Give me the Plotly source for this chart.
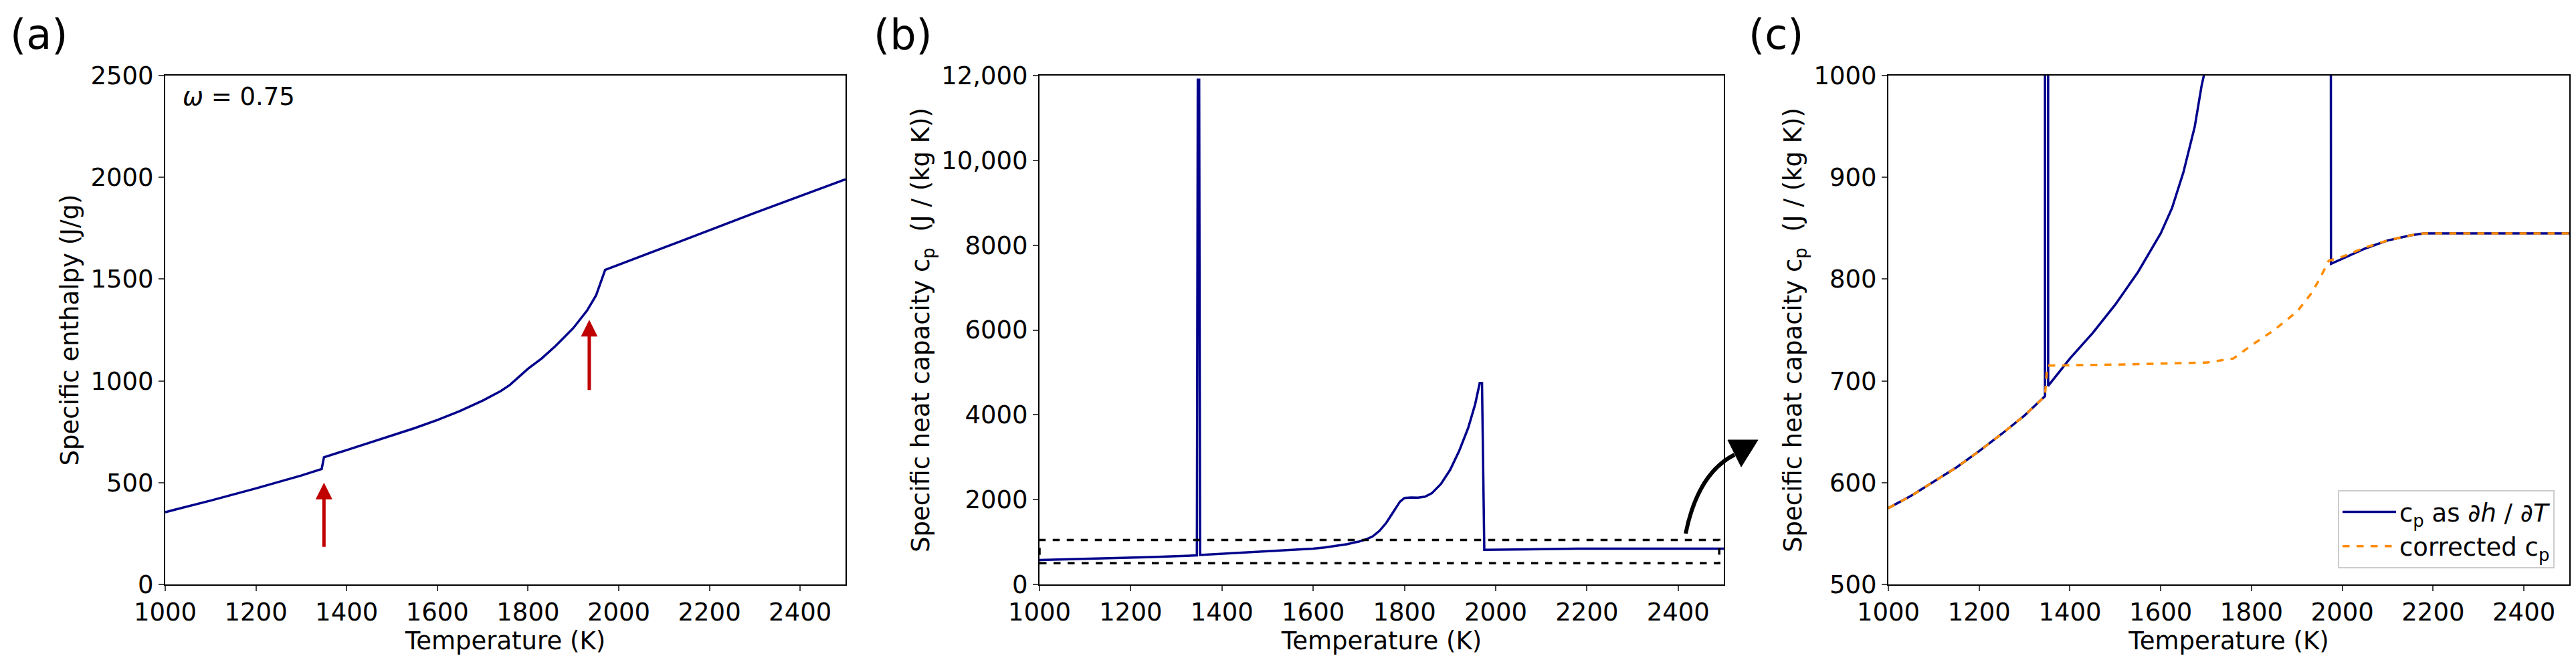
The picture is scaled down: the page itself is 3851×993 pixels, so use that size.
import plotly.graph_objects as go

# ---- data ----
T_h = [1000, 1100, 1200, 1300, 1345, 1350, 1400, 1450, 1500, 1550, 1600, 1650, 1700, 1740, 1760, 1780, 1800, 1830, 1860, 1900, 1930, 1950, 1970, 2100, 2300, 2500]
h = [355, 412, 472, 535, 567, 625, 660, 695, 730, 768, 808, 852, 903, 950, 980, 1020, 1060, 1110, 1170, 1260, 1345, 1420, 1545, 1655, 1825, 1990]

T_cp = [1000, 1050, 1100, 1150, 1200, 1250, 1300, 1345, 1347, 1350, 1352, 1400, 1450, 1500, 1550, 1600, 1625, 1650, 1675, 1690, 1700, 1715, 1730, 1745, 1760, 1775, 1790, 1800, 1815, 1830, 1845, 1860, 1880, 1900, 1920, 1940, 1955, 1965, 1970, 1975, 2000, 2050, 2100, 2150, 2180, 2500]
cp = [575, 587, 601, 615, 631, 648, 666, 685, 11900, 11900, 695, 722, 747, 775, 807, 845, 870, 905, 950, 990, 1010, 1060, 1130, 1260, 1450, 1700, 1950, 2040, 2050, 2045, 2070, 2150, 2370, 2700, 3150, 3700, 4250, 4750, 4750, 815, 820, 830, 838, 843, 845, 845]

T_corr = [1000, 1050, 1100, 1150, 1200, 1250, 1300, 1345, 1350, 1500, 1700, 1760, 1800, 1850, 1900, 1930, 1950, 1970, 2000, 2050, 2100, 2150, 2180, 2500]
cp_corr = [575, 587, 601, 615, 631, 648, 666, 685, 715, 716, 718, 722, 735, 750, 768, 785, 800, 818, 822, 831, 838, 843, 845, 845]

xticks = [1000, 1200, 1400, 1600, 1800, 2000, 2200, 2400]
yticks_b = [0, 2000, 4000, 6000, 8000, 10000, 12000]
yticks_b_text = ["0", "2000", "4000", "6000", "8000", "10,000", "12,000"]

W, H = 3851, 993
NAVY = "#00008b"
ORANGE = "#ff8c00"
RED = "#c00000"
FONT = "DejaVu Sans"
TS = 37

fig = go.Figure()
fig.add_trace(go.Scatter(x=T_h, y=h, mode="lines", line=dict(color=NAVY, width=3.5), xaxis="x", yaxis="y", showlegend=False))
fig.add_trace(go.Scatter(x=T_cp, y=cp, mode="lines", line=dict(color=NAVY, width=3.5), xaxis="x2", yaxis="y2", showlegend=False))
fig.add_trace(go.Scatter(x=T_cp, y=cp, mode="lines", line=dict(color=NAVY, width=3.5), xaxis="x3", yaxis="y3",
                         name="c<sub>p</sub> as ∂<i>h</i> / ∂<i>T</i>"))
fig.add_trace(go.Scatter(x=T_corr, y=cp_corr, mode="lines", line=dict(color=ORANGE, width=3.5, dash="dash"), xaxis="x3", yaxis="y3",
                         name="corrected c<sub>p</sub>"))

ydom = [1 - 866 / H, 1 - 105 / H]
doms = [(239 / W, 1256 / W), (1546 / W, 2569 / W), (2815 / W, 3833 / W)]
ax_common = dict(showline=True, linecolor="black", linewidth=2, mirror=True, ticks="outside", ticklen=8, tickwidth=2,
                 showgrid=False, zeroline=False, tickfont=dict(size=TS, color="black"), automargin=False)

layout = dict(width=W, height=H, margin=dict(l=0, r=0, t=0, b=0), plot_bgcolor="white", paper_bgcolor="white",
              font=dict(family=FONT, color="black", size=TS))
for i, (d, yr, ytitle) in enumerate([
        (doms[0], [0, 2500], "Specific enthalpy (J/g)"),
        (doms[1], [0, 12000], "Specific heat capacity c<sub>p</sub>  (J / (kg K))"),
        (doms[2], [500, 1000], "Specific heat capacity c<sub>p</sub>  (J / (kg K))")]):
    sfx = "" if i == 0 else str(i + 1)
    layout["xaxis" + sfx] = dict(ax_common, domain=list(d), range=[1000, 2500], tickvals=xticks, anchor="y" + sfx,
                                 title=dict(text="Temperature (K)", font=dict(size=TS), standoff=6))
    ya = dict(ax_common, domain=ydom, range=yr, anchor="x" + sfx, title=dict(text=ytitle, font=dict(size=TS), standoff=6))
    if i == 1:
        ya.update(tickvals=yticks_b, ticktext=yticks_b_text)
    elif i == 0:
        ya.update(dtick=500)
    else:
        ya.update(dtick=100)
    layout["yaxis" + sfx] = ya
layout["legend"] = dict(x=3811 / W, y=1 - 842 / H, xanchor="right", yanchor="bottom", bgcolor="white",
                        bordercolor="#cccccc", borderwidth=2, font=dict(size=TS), itemwidth=80, tracegroupgap=10)
fig.update_layout(**layout)

ann = [
    dict(text="(a)", x=5 / W, y=1 - 5 / H, xref="paper", yref="paper", xanchor="left", yanchor="top", showarrow=False, font=dict(size=62)),
    dict(text="(b)", x=1296 / W, y=1 - 5 / H, xref="paper", yref="paper", xanchor="left", yanchor="top", showarrow=False, font=dict(size=62)),
    dict(text="(c)", x=2604 / W, y=1 - 5 / H, xref="paper", yref="paper", xanchor="left", yanchor="top", showarrow=False, font=dict(size=62)),
    dict(text="<i>ω</i> = 0.75", x=1035, y=2395, xref="x", yref="y", xanchor="left", yanchor="middle", showarrow=False, font=dict(size=TS)),
    dict(x=1350, y=500, ax=1350, ay=180, xref="x", yref="y", axref="x", ayref="y", text="", showarrow=True,
         arrowhead=2, arrowsize=1, arrowwidth=5, arrowcolor=RED),
    dict(x=1935, y=1300, ax=1935, ay=950, xref="x", yref="y", axref="x", ayref="y", text="", showarrow=True,
         arrowhead=2, arrowsize=1, arrowwidth=5, arrowcolor=RED),
]
fig.update_layout(annotations=ann)

def P(px, py):
    return f"{px / W},{1 - py / H}"

shapes = [
    dict(type="rect", xref="x2", yref="y2", x0=1000, x1=2490, y0=500, y1=1050, line=dict(color="black", width=3.5, dash="dash")),
    dict(type="path", xref="paper", yref="paper", path=f"M {P(2512, 790)} Q {P(2530, 700)} {P(2585, 672)}",
         line=dict(color="black", width=6)),
    dict(type="path", xref="paper", yref="paper", path=f"M {P(2575, 650)} L {P(2620, 650)} L {P(2595, 690)} Z",
         fillcolor="black", line=dict(color="black", width=1)),
]
fig.update_layout(shapes=shapes)
fig.write_html("out.html")
